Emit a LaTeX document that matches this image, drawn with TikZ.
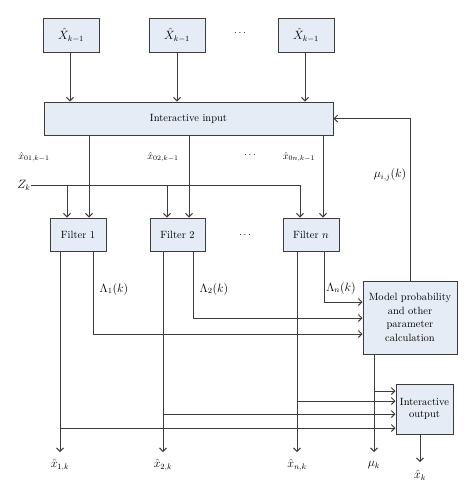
\documentclass[tikz,border=0pt]{standalone}
\usetikzlibrary{arrows.meta}
\definecolor{linegray}{HTML}{3C3C3C}
\definecolor{boxfill}{HTML}{E6ECF6}
\begin{document}
\begin{tikzpicture}[x=1pt,y=-1pt,
  box/.style={draw=linegray,fill=boxfill,line width=1pt,inner sep=1pt,align=center,font=\fontsize{10.5}{12}\selectfont},
  arr/.style={draw=linegray,line width=0.9pt,-{Straight Barb[length=3.5pt,width=7pt]}},
  lbl/.style={inner sep=0pt,font=\fontsize{10}{12}\selectfont},
  big/.style={inner sep=0pt,font=\fontsize{11.5}{12}\selectfont}]
\useasboundingbox (0,0) rectangle (474,496);
% top boxes
\node[box,minimum width=56pt,minimum height=34pt,font=\fontsize{12}{13}\selectfont] (X1) at (71,35) {$\hat{X}_{k-1}$};
\node[box,minimum width=56pt,minimum height=34pt,font=\fontsize{12}{13}\selectfont] (X2) at (177,35) {$\hat{X}_{k-1}$};
\node[box,minimum width=56pt,minimum height=34pt,font=\fontsize{12}{13}\selectfont] (X3) at (306,35) {$\hat{X}_{k-1}$};
\node[lbl] (d1) at (240,33) {$\cdots$};
% interactive input
\node[box,minimum width=289pt,minimum height=33pt] (In) at (188.5,118.5) {Interactive input};
% filters
\node[box,minimum width=56pt,minimum height=33pt] (F1) at (78,234.5) {Filter 1};
\node[box,minimum width=55pt,minimum height=33pt] (F2) at (177.5,234.5) {Filter 2};
\node[box,minimum width=56pt,minimum height=33pt] (Fn) at (311,234.5) {Filter $n$};
\node[lbl] (d3) at (245,235) {$\cdots$};
% model box
\node[box,minimum width=94pt,minimum height=73pt,font=\fontsize{10.5}{13.5}\selectfont] (M) at (410,317.5) {Model probability\\and other\\parameter\\calculation};
% output box
\node[box,minimum width=57pt,minimum height=50pt,font=\fontsize{10.5}{11.5}\selectfont] (O) at (424.5,409) {Interactive\\output};
% labels
\node[lbl] (l01) at (34,157) {$\hat{x}_{01,k-1}$};
\node[lbl] (l02) at (163,157) {$\hat{x}_{02,k-1}$};
\node[lbl] (d2) at (250,155) {$\cdots$};
\node[lbl] (l0n) at (299,157) {$\hat{x}_{0n,k-1}$};
\node[big] (mu) at (390,175) {$\mu_{i,j}(k)$};
\node[big] (Zk) at (24,185) {$Z_k$};
\node[big] (L1) at (114,289) {$\Lambda_1(k)$};
\node[big] (L2) at (214,289) {$\Lambda_2(k)$};
\node[big] (Ln) at (341,288) {$\Lambda_n(k)$};
% coordinates
\coordinate (a1) at (89,0);
\coordinate (a2) at (189,0);
\coordinate (a3) at (323,0);
\coordinate (z1) at (67,0);
\coordinate (z2) at (167,0);
\coordinate (z3) at (300,0);
\coordinate (t1) at (70,0);
\coordinate (t3) at (305,0);
\coordinate (c11) at (60,0);
\coordinate (c12) at (93,0);
\coordinate (c21) at (163,0);
\coordinate (c22) at (193,0);
\coordinate (cn1) at (297,0);
\coordinate (cn2) at (324,0);
\coordinate (m) at (374,0);
\coordinate (ox) at (420,0);
\coordinate (bot) at (0,452);
\coordinate (yl1) at (0,334);
\coordinate (yl2) at (0,318);
\coordinate (yln) at (0,302);
\coordinate (o1) at (0,391);
\coordinate (o2) at (0,401);
\coordinate (o3) at (0,414);
\coordinate (o4) at (0,428);
\coordinate (oend) at (0,462);
% bottom labels
\node[big] (x1k) at (60,465) {$\hat{x}_{1,k}$};
\node[big] (x2k) at (163,465) {$\hat{x}_{2,k}$};
\node[big] (xnk) at (297,465) {$\hat{x}_{n,k}$};
\node[big] (muk) at (374,465) {$\mu_k$};
\node[big] (xk) at (420,475) {$\hat{x}_k$};
% top arrows
\draw[arr] (X1.south -| t1) -- (In.north -| t1);
\draw[arr] (X2.south) -- (In.north -| X2.south);
\draw[arr] (X3.south -| t3) -- (In.north -| t3);
% input to filters
\draw[arr] (In.south -| a1) -- (F1.north -| a1);
\draw[arr] (In.south -| a2) -- (F2.north -| a2);
\draw[arr] (In.south -| a3) -- (Fn.north -| a3);
% Zk
\draw[arr] (Zk.east) -| (Fn.north -| z3);
\draw[arr] (Zk.east -| z1) -- (F1.north -| z1);
\draw[arr] (Zk.east -| z2) -- (F2.north -| z2);
% feedback
\draw[arr] (M.north) |- (In.east);
% filter outputs
\draw[arr] (F1.south -| c11) -- (c11 |- bot);
\draw[arr] (F2.south -| c21) -- (c21 |- bot);
\draw[arr] (Fn.south -| cn1) -- (cn1 |- bot);
\draw[arr] (F1.south -| c12) |- (M.west |- yl1);
\draw[arr] (F2.south -| c22) |- (M.west |- yl2);
\draw[arr] (Fn.south -| cn2) |- (M.west |- yln);
% mu
\draw[arr] (M.south -| m) -- (m |- bot);
\draw[arr] (m |- o1) -- (O.west |- o1);
\draw[arr] (cn1 |- o2) -- (O.west |- o2);
\draw[arr] (c21 |- o3) -- (O.west |- o3);
\draw[arr] (c11 |- o4) -- (O.west |- o4);
\draw[arr] (O.south -| ox) -- (ox |- oend);
\end{tikzpicture}
\end{document}
